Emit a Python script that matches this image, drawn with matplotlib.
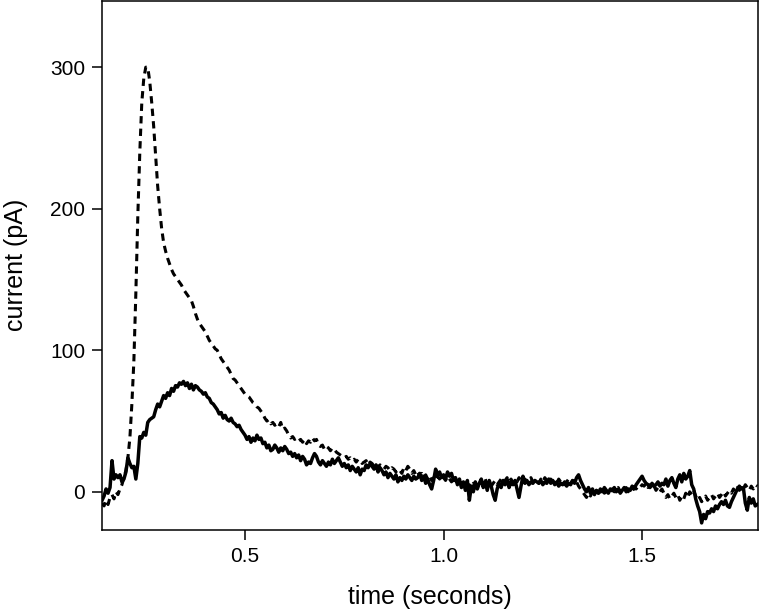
import numpy as np
import matplotlib
matplotlib.use("Agg")
import matplotlib.pyplot as plt

plt.rcParams['font.family'] = ['Liberation Sans', 'DejaVu Sans']

# solid trace, sampled every 5 ms from 0.14 s to 1.79 s (values in pA)
solid = [
    -6, -3, 2, -1, 3, 22, 9, 12, 10, 12, 7, 9, 14, 24, 20, 17, 18, 9, 20, 39,
    38, 42, 40, 49, 51, 52, 53, 58, 62, 60, 64, 68, 66, 70, 68, 73, 71, 75, 74, 77,
    76, 78, 75, 77, 73, 76, 72, 75, 74, 72, 71, 69, 70, 67, 66, 63, 62, 60, 58, 55,
    56, 52, 54, 51, 50, 52, 49, 48, 46, 47, 44, 42, 40, 37, 39, 35, 38, 36, 40, 37,
    38, 34, 35, 31, 33, 29, 30, 33, 31, 28, 31, 29, 32, 30, 27, 28, 25, 27, 24, 26,
    22, 25, 23, 19, 21, 20, 24, 27, 25, 21, 19, 22, 20, 18, 21, 19, 23, 20, 22, 24,
    21, 18, 20, 17, 19, 15, 18, 16, 14, 17, 12, 16, 15, 19, 17, 20, 18, 16, 19, 14,
    17, 15, 12, 14, 10, 13, 11, 9, 12, 7, 10, 8, 11, 9, 12, 10, 8, 11, 9, 10,
    13, 8, 11, 6, 9, 5, 2, 8, 16, 12, 14, 10, 12, 9, 14, 11, 13, 8, 10, 5,
    9, 3, 7, 1, 8, -6, 4, 0, 7, 2, 6, 9, 3, 7, 1, 8, 4, -2, -6, 2,
    6, 3, 8, 5, 9, 3, 7, 5, 8, 2, -4, 4, 11, 6, 8, 5, 7, 6, 8, 7,
    6, 8, 5, 7, 6, 9, 6, 8, 5, 7, 4, 6, 5, 7, 4, 6, 5, 8, 6, 10,
    12, 8, 5, 2, 0, 3, -1, 2, -2, 1, -1, 2, 0, 3, 1, -1, 2, 1, 3, 0,
    2, -1, 1, 3, 0, 2, 1, 4, 2, 5, 7, 9, 11, 8, 6, 5, 3, 6, 4, 5,
    7, 4, 6, 5, 9, 4, 8, 10, 6, 3, 9, 12, 7, 13, 9, 11, 15, 5, 2, -5,
    -10, -14, -22, -16, -19, -14, -15, -12, -14, -10, -12, -9, -7, -9, -6, -10, -11, -7, -4, -1,
    2, 4, 2, 3, -8, -13, -4, -8, -5, -10, -9,
]

# dashed trace, same sampling
dashed = [
    -8, -10, -6, -9, -4, -2, -5, 0, -2, 2, 5, 10, 15, 24, 38, 62, 92, 140, 195, 240,
    275, 292, 300, 300, 290, 275, 258, 237, 216, 200, 186, 176, 170, 165, 161, 157, 154, 152, 150, 148,
    146, 143, 141, 139, 137, 135, 131, 126, 122, 119, 117, 115, 113, 110, 107, 105, 103, 101, 100, 97,
    94, 92, 90, 88, 86, 83, 80, 79, 77, 75, 73, 71, 69, 68, 67, 65, 63, 62, 60, 59,
    57, 55, 52, 50, 51, 48, 49, 47, 48, 46, 49, 44, 45, 43, 40, 38, 39, 37, 38, 36,
    37, 35, 37, 34, 36, 35, 38, 36, 37, 33, 32, 33, 30, 32, 31, 29, 31, 30, 28, 27,
    26, 25, 24, 25, 23, 24, 22, 23, 21, 23, 22, 20, 21, 22, 19, 21, 20, 18, 20, 17,
    19, 18, 16, 18, 17, 15, 17, 16, 14, 16, 15, 13, 17, 15, 18, 16, 13, 15, 12, 14,
    11, 13, 10, 12, 9, 11, 8, 10, 8, 11, 9, 12, 10, 8, 11, 9, 7, 9, 6, 8,
    5, 7, 4, 6, 3, 5, 2, 6, 4, 7, 5, 8, 6, 9, 5, 7, 4, 6, 8, 5,
    7, 9, 6, 8, 10, 7, 9, 6, 8, 7, 10, 8, 6, 9, 7, 8, 10, 7, 9, 8,
    6, 9, 7, 10, 8, 6, 9, 7, 8, 6, 9, 7, 8, 5, 7, 9, 6, 8, 5, 7,
    4, 2, 0, -2, -4, -1, -3, 0, -2, 1, -1, 0, 2, -1, 0, 1, -1, 2, 0, 1,
    3, 0, 2, 1, 3, 0, 2, 1, 3, 2, 4, 3, 5, 4, 6, 3, 5, 2, 4, 1,
    3, 0, 2, -1, -4, -2, -5, -3, -1, -4, -2, -6, -3, -5, -1, -4, 0, -2, 1, -3,
    -6, -4, -7, -5, -3, -6, -4, -2, -5, -3, -1, -4, -2, 0, -3, -1, 1, -1, 2, 0,
    3, 1, 4, 2, 5, 3, 1, 4, 2, 5, 4,
]

t_solid = np.linspace(0.14, 1.79, len(solid))
t_dashed = np.linspace(0.14, 1.79, len(dashed))

fig = plt.figure(figsize=(7.6, 6.13), dpi=100)
ax = fig.add_axes([0.1338, 0.1354, 0.8636, 0.8635])

ax.plot(t_dashed, dashed, color='black', lw=2.2, linestyle=(0, (2.4, 1.7)))
ax.plot(t_solid, solid, color='black', lw=2.5, solid_joinstyle='round')

ax.set_xlim(0.139, 1.792)
ax.set_ylim(-27, 347)
ax.set_xticks([0.5, 1.0, 1.5])
ax.set_xticklabels(['0.5', '1.0', '1.5'])
ax.set_yticks([0, 100, 200, 300])

for s in ax.spines.values():
    s.set_linewidth(1.1)
ax.tick_params(direction='out', length=7, width=1.1, labelsize=15, pad=5)

ax.set_xlabel('time (seconds)', fontsize=18, labelpad=14)
ax.set_ylabel('current (pA)', fontsize=18, labelpad=16)

fig.savefig('out.png', dpi=100)
